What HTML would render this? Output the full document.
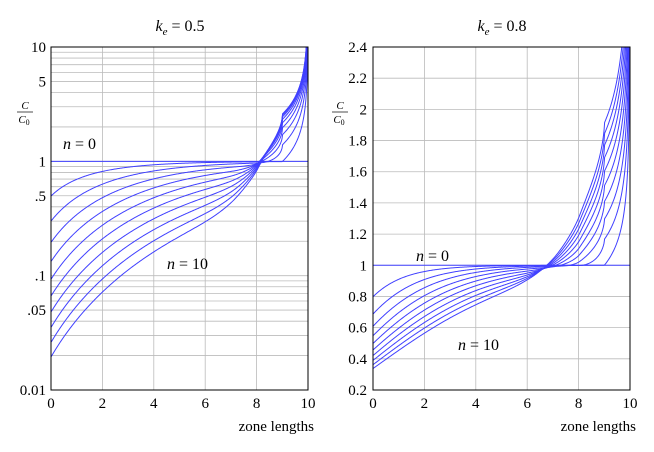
<!DOCTYPE html>
<html><head><meta charset="utf-8"><style>
body{margin:0;background:#fff}
svg{font-family:"Liberation Serif",serif;}
</style></head><body>
<svg id="s" width="654" height="447" xmlns="http://www.w3.org/2000/svg"></svg>
<script>
const S=document.getElementById('s');
let h='';
function sim(k,n){
  const m=40,L=10*m;let C=new Array(L).fill(1);
  for(let p=0;p<n;p++){
    let N=new Array(L);let cz=0;for(let j=0;j<m;j++)cz+=C[j];cz/=m;
    let i=0;
    for(;i+m<L;i++){N[i]=k*cz;cz=cz+(C[i+m]-k*cz)/m;}
    const rem=L-i;
    for(let j=0;j<rem;j++){const f=(j+0.5)/rem;N[i+j]=k*cz*Math.pow(1-f,k-1);}
    C=N;
  }
  return C;
}
function panel(x0,x1,yt,yb,k,logy,ymin,ymax,clip){
  const X=v=>x0+(x1-x0)*v/10;
  const Y=logy?v=>yb-(yb-yt)*(Math.log10(v)-Math.log10(ymin))/(Math.log10(ymax)-Math.log10(ymin)):v=>yb-(yb-yt)*(v-ymin)/(ymax-ymin);
  h+=`<clipPath id="${clip}"><rect x="${x0}" y="${yt}" width="${x1-x0}" height="${yb-yt}"/></clipPath>`;
  for(let v=2;v<10;v+=2)h+=`<line x1="${X(v)}" x2="${X(v)}" y1="${yt}" y2="${yb}" stroke="#bbb" stroke-width="0.8"/>`;
  if(logy){for(let d=0.01;d<10;d*=10)for(let j=1;j<10;j++){const v=d*j;if(v<=ymin||v>=ymax)continue;h+=`<line x1="${x0}" x2="${x1}" y1="${Y(v)}" y2="${Y(v)}" stroke="#bbb" stroke-width="0.8"/>`;}}
  else{for(let v=0.4;v<2.39;v+=0.2)h+=`<line x1="${x0}" x2="${x1}" y1="${Y(v)}" y2="${Y(v)}" stroke="#bbb" stroke-width="0.8"/>`;}
  h+=`<g clip-path="url(#${clip})" fill="none" stroke="#4040ff" stroke-width="1">`;
  h+=`<line x1="${x0}" x2="${x1}" y1="${Y(1)}" y2="${Y(1)}"/>`;
  for(let n=1;n<=10;n++){const C=sim(k,n);let d='';const L=C.length;
    for(let i=0;i<L;i++){let v=Math.max(C[i],ymin*0.5);v=Math.min(v,ymax*3);d+=(i?'L':'M')+X(10*(i+0.5)/L).toFixed(2)+','+Y(v).toFixed(2);}
    h+=`<path d="${d}"/>`;}
  h+='</g>';
  h+=`<rect x="${x0}" y="${yt}" width="${x1-x0}" height="${yb-yt}" fill="none" stroke="#000" stroke-width="1"/>`;
  for(let v=0;v<=10;v+=2)h+=`<text x="${X(v)}" y="${yb+18}" font-size="15" text-anchor="middle">${v}</text>`;
  return {X,Y};
}
let P=panel(51,308,47,390,0.5,true,0.01,10,'c1');
[[10,'10'],[5,'5'],[1,'1'],[0.5,'.5'],[0.1,'.1'],[0.05,'.05'],[0.01,'0.01']].forEach(([v,t])=>h+=`<text x="46" y="${P.Y(v)+5}" font-size="15" text-anchor="end">${t}</text>`);
let Q=panel(373,630,47,390,0.8,false,0.2,2.4,'c2');
for(let v=0.2;v<2.41;v+=0.2){let t=v.toFixed(1);if(Math.abs(v-1)<1e-6)t='1';if(Math.abs(v-2)<1e-6)t='2';h+=`<text x="367" y="${Q.Y(v)+5}" font-size="15" text-anchor="end">${t}</text>`;}
h+=`<text x="180" y="31" font-size="16" text-anchor="middle"><tspan font-style="italic">k</tspan><tspan font-size="11" font-style="italic" dy="4">e</tspan><tspan dy="-4"> = 0.5</tspan></text>`;
h+=`<text x="502" y="31" font-size="16" text-anchor="middle"><tspan font-style="italic">k</tspan><tspan font-size="11" font-style="italic" dy="4">e</tspan><tspan dy="-4"> = 0.8</tspan></text>`;
h+=`<text x="314" y="431" font-size="15" text-anchor="end">zone lengths</text><text x="636" y="431" font-size="15" text-anchor="end">zone lengths</text>`;
function frac(x,y){h+=`<text x="${x}" y="${y}" font-size="11" font-style="italic" text-anchor="middle">C</text><line x1="${x-8}" x2="${x+8}" y1="${y+3}" y2="${y+3}" stroke="#000" stroke-width="0.7"/><text x="${x-1}" y="${y+14}" font-size="11" font-style="italic" text-anchor="middle">C<tspan font-size="8" font-style="normal" dy="2">0</tspan></text>`;}
frac(25,109);frac(340,109);
function lab(x,y,t){h+=`<text x="${x}" y="${y}" font-size="16"><tspan font-style="italic">n</tspan> = ${t}</text>`;}
lab(63,149,'0');lab(167,269,'10');lab(416,261,'0');lab(458,350,'10');
S.innerHTML=h;
</script>
</body></html>
